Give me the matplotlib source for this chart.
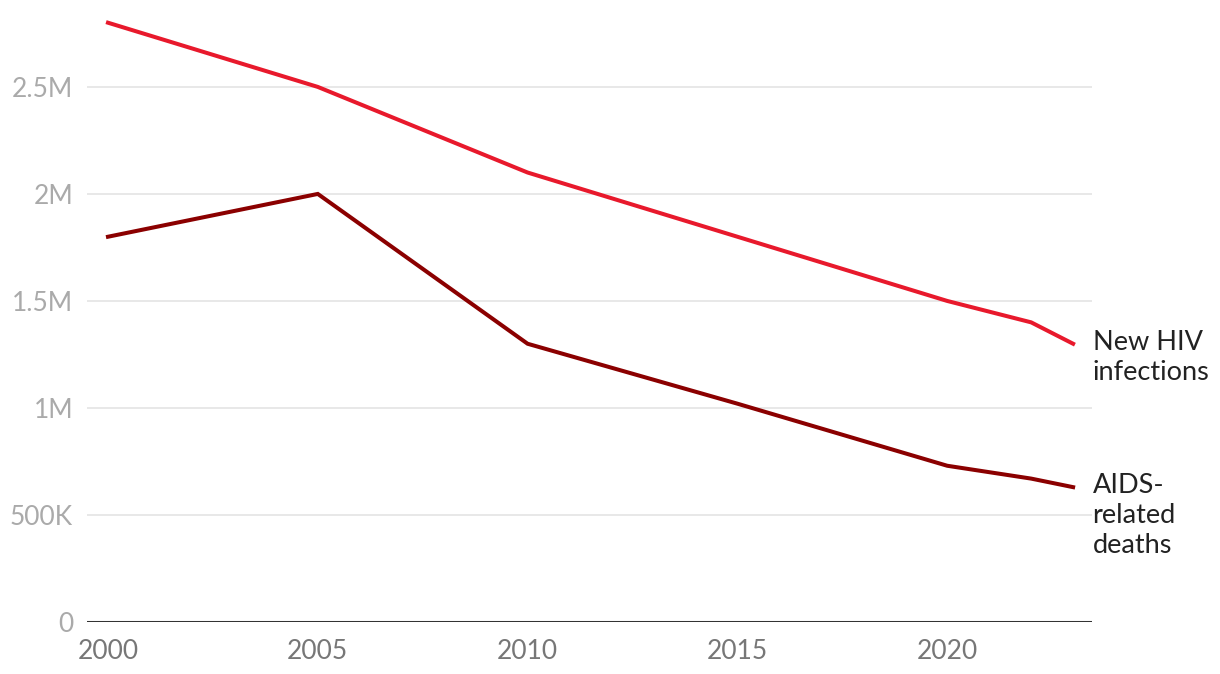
import matplotlib.pyplot as plt
from matplotlib.ticker import FuncFormatter

plt.rcParams['font.family'] = ['Lato', 'DejaVu Sans']

# 数据
years = [2000, 2005, 2010, 2015, 2020, 2022, 2023]
new_hiv = [2.8e6, 2.5e6, 2.1e6, 1.8e6, 1.5e6, 1.4e6, 1.3e6]
aids_deaths = [1.8e6, 2.0e6, 1.3e6, 1.02e6, 0.73e6, 0.67e6, 0.63e6]
series_labels = ['New HIV\ninfections', 'AIDS-\nrelated\ndeaths']
y_ticks = [0, 500000, 1000000, 1500000, 2000000, 2500000]
x_ticks = [2000, 2005, 2010, 2015, 2020]

fig = plt.figure(figsize=(12.2, 6.74), dpi=100)
ax = fig.add_axes([87/1220, 1-622/674, (1092-87)/1220, (622-12)/674])

colors = ['#e8192c', '#8b0000']
for vals, c, lab in zip([new_hiv, aids_deaths], colors, series_labels):
    ax.plot(years, vals, color=c, lw=2.9, solid_joinstyle='miter', zorder=3)
    ax.annotate(lab, xy=(years[-1], vals[-1]), xytext=(14, 10),
                textcoords='offset points', ha='left', va='top',
                fontsize=19.5, color='#222222', linespacing=1.25,
                annotation_clip=False)

ax.set_xlim(1999.5, 2023.45)
ax.set_ylim(0, 2.85e6)


def fmt(v, pos):
    if v == 0:
        return '0'
    if v >= 1e6:
        return ('%.1f' % (v/1e6)).rstrip('0').rstrip('.') + 'M'
    return '%dK' % (v/1e3)


ax.set_yticks(y_ticks)
ax.yaxis.set_major_formatter(FuncFormatter(fmt))
ax.set_xticks(x_ticks)
ax.tick_params(axis='y', length=0, pad=10, labelsize=19, labelcolor='#aaaaaa')
ax.tick_params(axis='x', length=0, pad=12, labelsize=19, labelcolor='#777777')

for t in y_ticks[1:]:
    ax.axhline(t, color='#e6e6e6', lw=1.3, zorder=1)
ax.axhline(0, color='#333333', lw=2.2, zorder=2)

for s in ax.spines.values():
    s.set_visible(False)

fig.savefig('out.png', dpi=100)
